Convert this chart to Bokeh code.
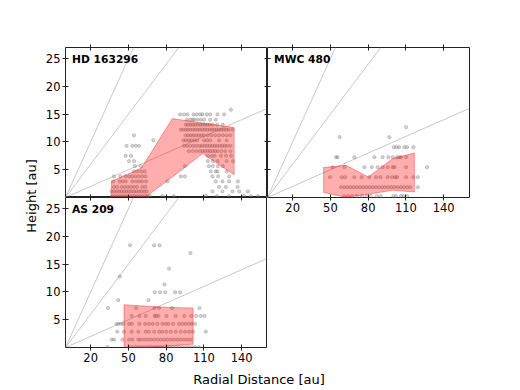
import numpy as np
from bokeh.plotting import figure
from bokeh.models import Range1d, LinearAxis, FixedTicker, Label
from bokeh.layouts import row, column
from bokeh.embed import file_html
from bokeh.resources import INLINE
from bokeh.core.properties import value

FONT = "DejaVu Sans"

# ---------------- data ----------------
x_ticks = [20, 50, 80, 110, 140]
y_ticks = [5, 10, 15, 20, 25]
x_limits = (0, 160.5)
y_limits = (0, 27.0)
slopes = [0.1, 0.3, 0.5]          # z/r reference lines
line_r = [0, 200]

panel_names = ["HD 163296", "MWC 480", "AS 209"]

# HD 163296 : heights (au) and the radii (au) of the points at each height
hd_levels = [15.8, 14.96, 14.0, 13.1, 12.2, 11.2, 10.3, 9.3, 8.35, 7.5, 6.55,
             5.65, 4.7, 3.8, 2.9, 1.9, 1.1, 0.25]
hd_radii = [
    [131.4],
    [91.0, 94.2, 97.0, 101.7, 104.3, 107.0, 108.8, 112.3, 115.0, 120.7, 126.0],
    [96.4, 99.0, 101.0, 102.2, 104.8, 107.5, 110.1, 114.9, 119.4],
    [95.6, 97.5, 99.4, 101.3, 103.2, 105.1, 107.0, 108.9, 110.8, 112.7, 114.6,
     117.0, 120.5, 125.0],
    [91.6, 93.5, 95.4, 97.3, 99.2, 101.1, 103.0, 104.9, 106.8, 108.7, 110.6,
     112.5, 114.4, 116.3, 118.2, 120.1, 122.0, 123.9, 125.8, 127.7, 129.6, 132.7],
    [54.4, 95.4, 97.5, 99.6, 101.7, 103.8, 105.9, 108.0, 110.1, 113.0, 116.0,
     119.0, 122.0, 125.0, 128.0, 131.0],
    [69.8, 93.7, 95.8, 98.0, 100.2, 102.4, 104.6, 110.0, 112.5, 115.0, 122.0, 128.0],
    [48.6, 53.1, 55.8, 58.4, 94.2, 96.5, 99.0, 101.5, 104.0, 106.5, 108.5, 110.5,
     112.5, 114.5, 116.5, 118.5, 120.5, 122.5, 124.5, 126.5, 128.5, 131.0],
    [98.0, 101.0, 104.0, 107.0, 109.0, 111.0, 113.0, 115.0, 117.0, 119.0, 121.0,
     124.0, 127.0, 131.0],
    [47.8, 52.0, 113.0, 116.0, 118.5, 123.5, 127.5, 131.5],
    [50.5, 54.4, 113.0, 117.0, 121.0, 128.0, 133.0],
    [55.2, 59.8, 94.8, 114.0, 117.0, 121.0, 125.0],
    [54.4, 57.1, 60.3, 63.0, 115.4, 119.4, 120.7, 128.0],
    [38.5, 43.6, 47.7, 50.5, 53.0, 55.6, 58.2, 60.8, 63.5, 91.6, 94.8,
     116.8, 121.3, 130.0],
    [38.0, 43.0, 45.5, 48.0, 53.0, 56.0, 58.5, 61.0, 64.0,
     81.0, 119.4, 124.7, 130.0, 137.0],
    [38.5, 41.0, 44.5, 47.0, 49.5, 52.0, 54.5, 57.0, 61.0, 63.5,
     122.0, 127.4, 136.7],
    [36.5, 38.5, 40.5, 42.5, 44.5, 46.5, 48.5, 50.5, 52.5, 54.5, 56.5, 58.5, 60.5,
     62.5, 64.5, 116.8, 124.7, 132.7, 138.0, 145.0],
    [37.0, 39.0, 41.0, 43.0, 45.0, 47.0, 49.0, 51.0, 53.0, 55.0, 57.0, 59.0, 61.0,
     63.0, 65.0, 67.0, 77.0, 86.0, 111.6, 120.3, 129.9, 141.8, 147.3, 152.9],
]
hd_bins = [36.4, 60.3, 84.9, 109.0, 134.0]
hd_upper = [2.9, 5.3, 14.2, 13.4, 12.6]
hd_lower = [-0.8, -0.5, 3.7, 7.9, 4.1]

# MWC 480
mwc_levels = [12.67, 10.87, 9.06, 7.26, 5.46, 3.66, 1.86, 0.25]
mwc_radii = [
    [110.1],
    [57.3, 96.8],
    [100.3, 102.4, 104.5, 108.8, 110.9, 115.9],
    [54.4, 55.7, 69.0, 84.9, 91.5, 96.0, 99.5, 102.9, 104.8, 106.1, 110.1],
    [51.8, 61.1, 77.0, 82.8, 87.6, 91.5, 95.5, 99.5, 100.8, 110.1, 126.8],
    [49.6, 58.9, 61.6, 69.0, 74.8, 80.9, 86.2, 89.7, 95.5, 99.0, 101.6, 102.9,
     110.1, 115.9, 119.4],
    [58.4, 61.0, 63.5, 66.0, 68.5, 71.0, 73.5, 76.0, 78.5, 81.0, 83.5, 86.0, 88.5,
     91.0, 93.5, 96.0, 98.5, 101.0, 103.5, 106.0, 108.5, 111.0, 113.5, 119.4],
    [61.0, 64.0, 67.0, 71.0, 75.0, 79.0, 82.0, 87.0, 90.0, 100.0, 102.0, 106.0,
     108.0, 111.0],
]
mwc_bins = [44.6, 62.4, 80.1, 99.5, 116.7]
mwc_upper = [5.4, 5.8, 3.7, 7.0, 8.0]
mwc_lower = [0.9, 0.05, 0.6, 1.3, 1.0]

# AS 209
as_levels = [18.4, 17.0, 14.2, 12.78, 11.36, 9.94, 8.52, 7.1, 5.68, 4.26, 2.84,
             1.42, 0.07]
as_radii = [
    [51.3, 70.4, 74.7],
    [99.3],
    [82.3],
    [43.1],
    [78.6],
    [71.0, 75.2, 79.2, 87.1, 91.1],
    [41.8, 65.9],
    [33.8, 56.1, 70.7, 74.4, 84.7, 106.5],
    [52.6, 58.7, 63.8, 70.9, 72.0, 73.9, 80.2, 87.6, 94.3, 99.8, 103.8, 107.5, 110.5],
    [40.5, 42.0, 44.0, 46.0, 50.5, 52.7, 58.7, 63.3, 66.4, 69.3, 73.0, 77.0, 79.7,
     81.8, 85.5, 90.3, 93.0, 95.6, 98.3, 100.4, 103.0],
    [41.2, 46.5, 52.6, 57.9, 63.8, 66.4, 70.4, 74.4, 77.0, 80.2, 83.7, 87.6, 91.6,
     95.1, 98.3, 101.4, 111.5],
    [36.7, 38.6, 45.2, 50.5, 53.2, 57.9, 59.8, 62.5, 65.1, 67.8, 70.4, 73.1, 75.7,
     78.4, 81.0, 83.7, 86.3, 89.0, 91.6, 94.3, 97.0, 99.6],
    [33.3, 50.5, 53.0, 55.5, 58.0, 60.5, 63.0, 65.5, 68.0, 70.5, 73.0, 75.5, 78.0,
     80.5, 83.0, 85.5, 88.0, 90.5, 93.0, 95.5, 98.0, 100.5, 103.0, 106.0],
]
as_bins = [46.5, 74.0, 101.4]
as_upper = [7.7, 7.3, 7.1]
as_lower = [-0.3, 0.15, 0.6]

# ---------------- helpers ----------------
SPINE = "#222222"


def add_axis(p, side, labels, fixed=None, tick_in=3, tick_out=3):
    ticks = x_ticks if side in ("above", "below") else y_ticks
    ax = LinearAxis(ticker=FixedTicker(ticks=ticks), axis_line_color=None,
                    major_tick_in=tick_in, major_tick_out=tick_out,
                    major_tick_line_color=SPINE, major_tick_line_width=1,
                    minor_tick_in=0, minor_tick_out=0,
                    major_label_standoff=2,
                    major_label_text_font=FONT,
                    major_label_text_font_size="11.5px",
                    major_label_text_color="black" if labels else None)
    if fixed is not None:
        ax.fixed_location = fixed
    p.add_layout(ax, side)
    return ax


def make_panel(name, levels, radii, bins, upper, lower, borders):
    bt, br, bb, bl = borders
    p = figure(frame_width=202, frame_height=150,
               x_range=Range1d(*x_limits), y_range=Range1d(*y_limits),
               x_axis_location=None, y_axis_location=None,
               output_backend="svg", toolbar_location=None,
               min_border_top=bt, min_border_right=br,
               min_border_bottom=bb, min_border_left=bl)
    p.grid.visible = False
    p.outline_line_color = SPINE
    p.outline_line_width = 1
    p.background_fill_color = "white"
    p.border_fill_color = "white"

    # reference lines z/r = const
    for s in slopes:
        p.line(line_r, [s * r for r in line_r], line_color="gray",
               line_alpha=0.55, line_width=0.8)

    # points
    xs, ys = [], []
    for z, rs in zip(levels, radii):
        xs.extend(rs)
        ys.extend([z] * len(rs))
    p.scatter(xs, ys, size=3.3, fill_color="gray", fill_alpha=0.35,
              line_color="gray", line_alpha=0.5, line_width=0.7)

    # envelope
    px = list(bins) + list(bins)[::-1]
    py = list(upper) + list(lower)[::-1]
    p.patch(px, py, fill_color="red", fill_alpha=0.32,
            line_color="red", line_alpha=0.35, line_width=1)

    p.add_layout(Label(x=5.2, y=24.8, text=name, text_font=FONT,
                       text_font_style="bold", text_font_size="10.7px",
                       text_color="black",
                       text_baseline="middle", text_align="left"))
    return p


# top-left
tl = make_panel(panel_names[0], hd_levels, hd_radii, hd_bins, hd_upper, hd_lower,
                (47, 0, 0, 25))
add_axis(tl, "left", True)
add_axis(tl, "above", False)
add_axis(tl, "below", False, fixed=y_limits[0], tick_out=0)
add_axis(tl, "right", False, fixed=x_limits[1], tick_out=0)

# top-right
tr = make_panel(panel_names[1], mwc_levels, mwc_radii, mwc_bins, mwc_upper, mwc_lower,
                (47, 10, 20, 0))
add_axis(tr, "below", True)
add_axis(tr, "above", False)
add_axis(tr, "left", False, fixed=x_limits[0], tick_out=0)

# bottom-left
bl = make_panel(panel_names[2], as_levels, as_radii, as_bins, as_upper, as_lower,
                (0, 0, 20, 25))
add_axis(bl, "left", True)
add_axis(bl, "below", True)
add_axis(bl, "above", False, fixed=y_limits[1], tick_out=0)


def strip(w, h):
    s = figure(width=w, height=h, x_range=Range1d(0, w), y_range=Range1d(0, h),
               x_axis_location=None, y_axis_location=None,
               output_backend="svg", toolbar_location=None, min_border=0)
    s.grid.visible = False
    s.outline_line_color = None
    return s


ylab = strip(40, 389)
ylab.text(x=[31], y=[193.5], text=["Height [au]"], angle=np.pi / 2,
          text_align="center", text_baseline="middle",
          text_font=value(FONT), text_font_size="13px", text_color="black")

xlab = strip(439, 22)
xlab.text(x=[218.5], y=[10], text=["Radial Distance [au]"],
          text_align="center", text_baseline="middle",
          text_font=value(FONT), text_font_size="13px", text_color="black")

layout = row(ylab, column(row(column(tl, bl), tr), xlab))

open("out.html", "w").write(file_html(layout, INLINE))
